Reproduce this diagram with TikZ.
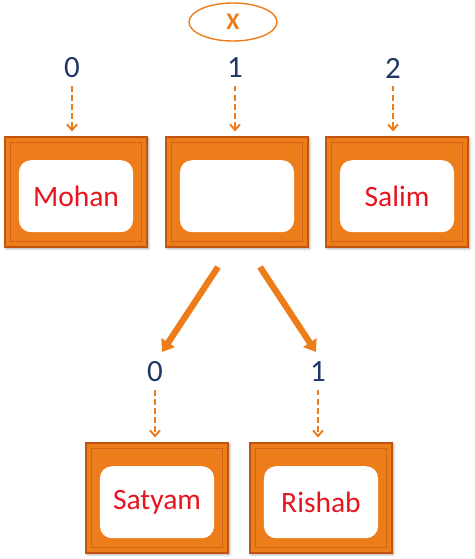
\documentclass[tikz,border=0pt]{standalone}
\usepackage{fontspec}
\setmainfont{Carlito}
\usetikzlibrary{calc,positioning,arrows.meta,shadows.blur}
\usetikzlibrary{shapes.geometric}
\definecolor{boxorange}{RGB}{237,125,27}
\definecolor{boxdark}{RGB}{190,86,16}
\definecolor{idxblue}{RGB}{31,56,100}
\definecolor{namered}{RGB}{232,20,30}

\begin{document}
\begin{tikzpicture}[x=0.025cm,y=-0.025cm,>={Straight Barb[length=4pt,width=7pt]},
    framebox/.style={draw=boxdark,fill=boxorange,line width=0.8pt,minimum width=3.55cm,minimum height=2.75cm,
        blur shadow={shadow xshift=1pt,shadow yshift=-1pt,shadow blur steps=4},
        path picture={\draw[boxdark!60!boxorange,line width=0.5pt] ([shift={(0.14cm,-0.14cm)}]path picture bounding box.north west)
            rectangle ([shift={(-0.14cm,0.14cm)}]path picture bounding box.south east);}},
    namecard/.style={fill=white,rounded corners=0.3cm,minimum width=2.85cm,minimum height=1.8cm,
        text=namered,font=\fontsize{21}{24}\selectfont},
    idx/.style={text=idxblue,font=\fontsize{22}{26}\selectfont},
    dasharrow/.style={->,boxorange,line width=1.4pt,dash pattern=on 4pt off 2.5pt,shorten <=2pt,shorten >=3.5pt},
    bigarrow/.style={-{Triangle[length=8pt,width=11pt]},boxorange,line width=4.5pt}]
    \useasboundingbox (0,0) rectangle (474,559);

    % variable x
    \node[ellipse,draw=boxorange,line width=1pt,minimum width=2.2cm,minimum height=0.95cm,inner sep=0pt,
        text=boxorange,font=\bfseries\fontsize{17}{20}\selectfont] (xvar) at (233,22) {X};

    % top array
    \node[framebox] (mohanbox) at (76,192) {};
    \node[framebox] (slotbox) at (237,192) {};
    \node[framebox] (salimbox) at (397,192) {};
    \node[namecard] (mohan) at ([yshift=-3pt]mohanbox.center) {Mohan};
    \node[namecard] (slot) at ([yshift=-3pt]slotbox.center) {};
    \node[namecard] (salim) at ([yshift=-3pt]salimbox.center) {Salim};

    \node[idx] (top0) at (72,68) {0};
    \node[idx] (top1) at (235,68) {1};
    \node[idx] (top2) at (393,68) {2};
    \draw[dasharrow] (top0.south) -- (top0.south |- mohanbox.north);
    \draw[dasharrow] (top1.south) -- (top1.south |- slotbox.north);
    \draw[dasharrow] (top2.south) -- (top2.south |- salimbox.north);

    % nested array
    \coordinate (tail0) at (218,267);
    \coordinate (tip0) at (162,352);
    \coordinate (tail1) at (260,267);
    \coordinate (tip1) at (316,352);
    \draw[bigarrow] (tail0) -- (tip0);
    \draw[bigarrow] (tail1) -- (tip1);

    \node[idx] (sub0) at (155,372) {0};
    \node[idx] (sub1) at (318,372) {1};

    \node[framebox] (satyambox) at (157,498) {};
    \node[framebox] (rishabbox) at (321,498) {};
    \node[namecard] (satyam) at ([yshift=-3pt]satyambox.center) {Satyam};
    \node[namecard] (rishab) at ([yshift=-3pt]rishabbox.center) {Rishab};
    \draw[dasharrow] (sub0.south) -- (sub0.south |- satyambox.north);
    \draw[dasharrow] (sub1.south) -- (sub1.south |- rishabbox.north);
\end{tikzpicture}
\end{document}
